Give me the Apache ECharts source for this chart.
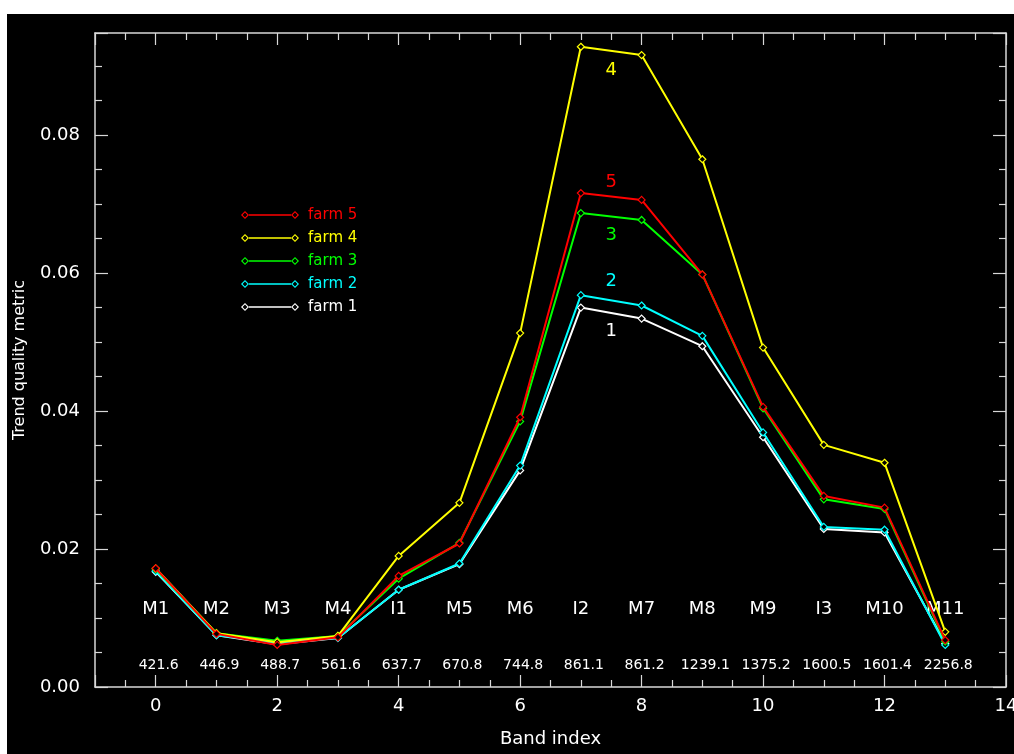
<!DOCTYPE html>
<html>
<head>
<meta charset="utf-8">
<script src="https://cdn.jsdelivr.net/npm/echarts@6/dist/echarts.min.js"></script>
<style>
html,body{margin:0;padding:0;background:#ffffff;width:1014px;height:754px;overflow:hidden;}
#chart{position:absolute;left:7px;top:14px;width:1007px;height:740px;background:#000;}
</style>
</head>
<body>
<div id="chart"></div>
<script>
// ---- data ----
const bandNames = ['M1','M2','M3','M4','I1','M5','M6','I2','M7','M8','M9','I3','M10','M11'];
const wavelengths = ['421.6','446.9','488.7','561.6','637.7','670.8','744.8','861.1','861.2','1239.1','1375.2','1600.5','1601.4','2256.8'];
const farm1 = [0.0167,0.0075,0.0062,0.0071,0.0141,0.0178,0.0314,0.0550,0.0534,0.0494,0.0362,0.0229,0.0224,0.0063];
const farm2 = [0.0168,0.0075,0.0064,0.0071,0.0141,0.0179,0.0321,0.0568,0.0553,0.0509,0.0369,0.0232,0.0228,0.0061];
const farm3 = [0.0171,0.0078,0.0067,0.0074,0.0157,0.0209,0.0385,0.0687,0.0677,0.0598,0.0404,0.0272,0.0258,0.0066];
const farm4 = [0.0172,0.0078,0.0065,0.0074,0.0190,0.0267,0.0513,0.0928,0.0916,0.0765,0.0492,0.0351,0.0325,0.0080];
const farm5 = [0.0172,0.0077,0.0061,0.0072,0.0161,0.0208,0.0391,0.0716,0.0706,0.0598,0.0406,0.0277,0.0260,0.0068];
const farmNames = ['farm 1','farm 2','farm 3','farm 4','farm 5'];
const farmTags = ['1','2','3','4','5'];
const tagY = [0.0516,0.0588,0.0655,0.0894,0.0732];
const tagX = 7.5;
const yTicks = [0, 0.02, 0.04, 0.06, 0.08];

// ---- styling ----
const farmColors = ['#ffffff','#00ffff','#00ff00','#ffff00','#ff0000'];
const FONT = 'DejaVu Sans';
const AXIS_COLOR = '#d8d8d8';
const BAND_NAME_Y = 0.0112;
const WAVE_Y = 0.0032;
const Y_MAX = 0.0948;

const farmData = [farm1, farm2, farm3, farm4, farm5];
const chart = echarts.init(document.getElementById('chart'), null, {renderer: 'canvas'});

const lineSeries = farmData.map((arr, k) => ({
  type: 'line',
  name: farmNames[k],
  xAxisIndex: 2,
  yAxisIndex: 0,
  data: arr.map((v, i) => [i, v]),
  symbol: 'diamond',
  symbolSize: 7,
  showAllSymbol: true,
  lineStyle: {color: farmColors[k], width: 2},
  itemStyle: {color: '#000', borderColor: farmColors[k], borderWidth: 1.2},
  emphasis: {disabled: true},
  z: 2 + k
}));

const iconPath = 'path://M4 0L8 4L4 8L0 4ZM4 1.6L1.6 4L4 6.4L6.4 4ZM8 3.3L50 3.3L50 4.7L8 4.7ZM54 0L58 4L54 8L50 4ZM54 1.6L51.6 4L54 6.4L56.4 4Z';

const textSeries = [
  {
    type: 'scatter', xAxisIndex: 2, yAxisIndex: 0, silent: true,
    symbolSize: 0, itemStyle: {opacity: 1},
    data: bandNames.map((n, i) => [i, BAND_NAME_Y, n]),
    label: {show: true, position: 'inside', formatter: p => p.data[2], color: '#fff', fontFamily: FONT, fontSize: 18}
  },
  {
    type: 'scatter', xAxisIndex: 2, yAxisIndex: 0, silent: true,
    symbolSize: 0, itemStyle: {opacity: 1},
    data: wavelengths.map((w, i) => [i, WAVE_Y, w]),
    label: {show: true, position: 'inside', offset: [3, 0], formatter: p => p.data[2], color: '#fff', fontFamily: FONT, fontSize: 14}
  },
  {
    type: 'scatter', xAxisIndex: 2, yAxisIndex: 0, silent: true,
    symbolSize: 0, itemStyle: {opacity: 1},
    data: farmTags.map((t, k) => ({value: [tagX, tagY[k], t], label: {color: farmColors[k]}})),
    label: {show: true, position: 'inside', formatter: p => p.data.value[2], fontFamily: FONT, fontSize: 18}
  }
];

const decoX = (pos, showLabel) => ({
  type: 'value', position: pos, min: -14, max: 1, interval: 2, inverse: true,
  axisLine: {show: true, onZero: false, lineStyle: {color: AXIS_COLOR, width: 1.5}},
  axisTick: {show: true, inside: true, length: 12, lineStyle: {color: AXIS_COLOR, width: 1.2}},
  minorTick: {show: true, splitNumber: 4, length: 7, lineStyle: {color: AXIS_COLOR, width: 1.2}},
  splitLine: {show: false},
  axisLabel: {show: showLabel, margin: 10, color: '#fff', fontFamily: FONT, fontSize: 18, hideOverlap: false,
    formatter: v => (v > 0 ? '' : String(-v))},
  name: showLabel ? 'Band index' : '', nameLocation: 'middle', nameGap: 43,
  nameTextStyle: {color: '#fff', fontFamily: FONT, fontSize: 18}
});

const yAx = (pos, showLabel) => ({
  type: 'value', position: pos, min: 0, max: Y_MAX, interval: 0.02,
  axisLine: {show: true, onZero: false, lineStyle: {color: AXIS_COLOR, width: 1.5}},
  axisTick: {show: true, inside: true, length: 13, lineStyle: {color: AXIS_COLOR, width: 1.2}},
  minorTick: {show: true, splitNumber: 4, length: 7, lineStyle: {color: AXIS_COLOR, width: 1.2}},
  splitLine: {show: false},
  axisLabel: {show: showLabel, margin: 15, color: '#fff', fontFamily: FONT, fontSize: 18, showMaxLabel: false,
    formatter: v => (yTicks.some(t => Math.abs(t - v) < 1e-9) ? v.toFixed(2) : '')},
  name: showLabel ? 'Trend quality metric' : '', nameLocation: 'middle', nameGap: 67, nameRotate: 90,
  nameTextStyle: {color: '#fff', fontFamily: FONT, fontSize: 16}
});

chart.setOption({
  backgroundColor: '#000',
  animation: false,
  grid: {left: 88, right: 8, top: 19, bottom: 67, containLabel: false, outerBoundsMode: 'none'},
  xAxis: [
    decoX('bottom', true),
    decoX('top', false),
    {type: 'value', position: 'bottom', min: -1, max: 14, show: false}
  ],
  yAxis: [yAx('left', true), yAx('right', false)],
  legend: {
    show: true, orient: 'vertical', left: 229, top: 188,
    itemWidth: 58, itemHeight: 8, itemGap: 7, icon: iconPath,
    selectedMode: false,
    data: farmNames.slice().reverse().map(n => {
      const k = farmNames.indexOf(n);
      return {name: n, itemStyle: {color: farmColors[k], borderWidth: 0},
        textStyle: {color: farmColors[k]}};
    }),
    textStyle: {fontFamily: FONT, fontSize: 15, lineHeight: 16, padding: [0, 0, 0, 4]}
  },
  series: lineSeries.concat(textSeries)
});
</script>
</body>
</html>
